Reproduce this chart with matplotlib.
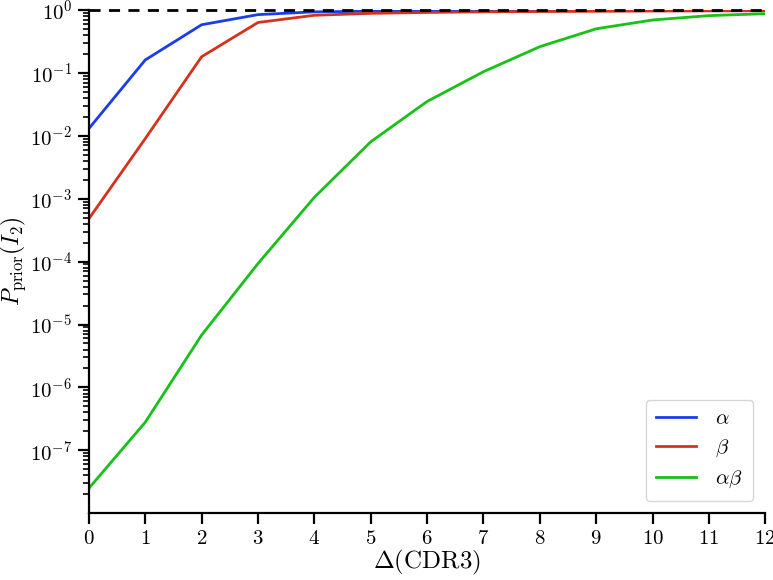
import matplotlib
matplotlib.use('Agg')
import matplotlib.pyplot as plt

plt.rcParams['font.family'] = 'serif'
plt.rcParams['font.serif'] = ['cmr10']
plt.rcParams['mathtext.fontset'] = 'cm'
plt.rcParams['axes.formatter.use_mathtext'] = True

# Data
delta_cdr3 = list(range(13))
p_alpha = [0.013, 0.16, 0.58, 0.84, 0.93, 0.95, 0.96, 0.965, 0.97, 0.97, 0.97, 0.97, 0.97]
p_beta = [4.8e-4, 0.009, 0.18, 0.63, 0.82, 0.88, 0.91, 0.93, 0.94, 0.95, 0.96, 0.965, 0.97]
p_alphabeta = [2.5e-8, 2.8e-7, 6.8e-6, 9.3e-5, 1.05e-3, 8.0e-3, 0.035, 0.104, 0.26,
               0.50, 0.69, 0.81, 0.87]
series_labels = [r'$\alpha$', r'$\beta$', r'$\alpha\beta$']
series_colors = ['#1a3de8', '#d4321a', '#18c018']

fig = plt.figure(figsize=(7.73, 5.8), dpi=100)
ax = fig.add_axes([0.115, 0.115, 0.875, 0.868])

for vals, lab, col in zip([p_alpha, p_beta, p_alphabeta], series_labels, series_colors):
    ax.plot(delta_cdr3, vals, color=col, linewidth=2, label=lab)

ax.axhline(1.0, color='black', linestyle='--', linewidth=2, dashes=(4, 3), clip_on=False)

ax.set_yscale('log')
ax.set_xlim(0, 12)
ax.set_ylim(1e-8, 1)
ax.set_xticks(delta_cdr3)
ax.set_yticks([1e-7, 1e-6, 1e-5, 1e-4, 1e-3, 1e-2, 1e-1, 1e0])

for side in ['top', 'right']:
    ax.spines[side].set_visible(False)
for side in ['left', 'bottom']:
    ax.spines[side].set_linewidth(1.6)

ax.tick_params(axis='both', which='major', direction='out', length=8, width=1.6,
               labelsize=15, pad=4)
ax.tick_params(axis='y', which='minor', direction='out', length=4.5, width=1.2)

ax.set_xlabel(r'$\Delta(\mathrm{CDR3})$', fontsize=18, labelpad=0)
ax.set_ylabel(r'$P_{\rm prior}(I_2)$', fontsize=17)
ax.yaxis.set_label_coords(-0.09, 0.5)

ax.legend(loc='lower right', fontsize=15, frameon=True, fancybox=True,
          edgecolor='#cccccc', handlelength=1.9, borderpad=0.5, labelspacing=0.45,
          handletextpad=0.9, borderaxespad=0.6)

fig.savefig('out.png', dpi=100)
